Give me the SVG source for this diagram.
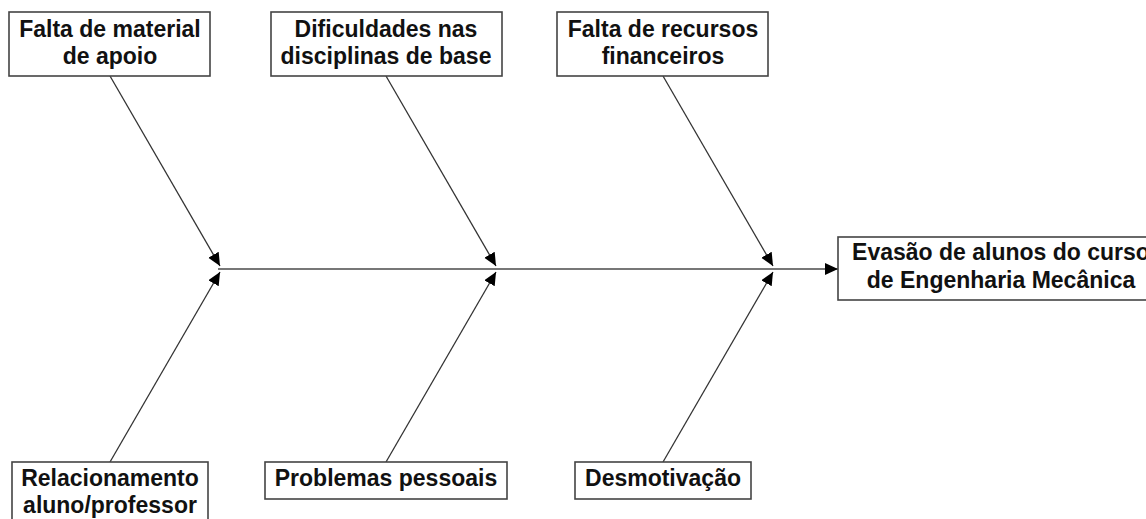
<svg xmlns="http://www.w3.org/2000/svg" width="1146" height="519" viewBox="0 0 1146 519">
<style>
.box{fill:#fff;stroke:#444;stroke-width:1.6}
.t{font-family:"Liberation Sans",Arial,sans-serif;font-weight:bold;font-size:23px;fill:#111;text-anchor:middle}
.br{stroke:#333;stroke-width:1.3;fill:none}
.sp{stroke:#777;stroke-width:2;fill:none}
</style>
<defs>
<marker id="ah" markerUnits="userSpaceOnUse" markerWidth="16" markerHeight="14" refX="13" refY="6" orient="auto">
<path d="M0,0 L13,6 L0,12 Z" fill="#000"/>
</marker>
</defs>
<rect width="1146" height="519" fill="#fff"/>
<g id="connectors">
<line class="sp" x1="218" y1="269" x2="838" y2="269" marker-end="url(#ah)"/>
<line class="br" x1="110" y1="76" x2="220" y2="266" marker-end="url(#ah)"/>
<line class="br" x1="386" y1="76" x2="496" y2="266" marker-end="url(#ah)"/>
<line class="br" x1="663" y1="76" x2="773" y2="266" marker-end="url(#ah)"/>
<line class="br" x1="110" y1="462" x2="220" y2="272" marker-end="url(#ah)"/>
<line class="br" x1="386" y1="462" x2="496" y2="272" marker-end="url(#ah)"/>
<line class="br" x1="663" y1="462" x2="773" y2="272" marker-end="url(#ah)"/>
</g>
<g id="n1"><rect class="box" x="9" y="12" width="201" height="64"/><text class="t" x="110" y="37">Falta de material</text><text class="t" x="110" y="64">de apoio</text></g>
<g id="n2"><rect class="box" x="271" y="12" width="231" height="64"/><text class="t" x="386" y="37">Dificuldades nas</text><text class="t" x="386" y="64">disciplinas de base</text></g>
<g id="n3"><rect class="box" x="557" y="12" width="211" height="64"/><text class="t" x="663" y="37">Falta de recursos</text><text class="t" x="663" y="64">financeiros</text></g>
<g id="n4"><rect class="box" x="12" y="462" width="196" height="70"/><text class="t" x="110" y="486">Relacionamento</text><text class="t" x="110" y="513">aluno/professor</text></g>
<g id="n5"><rect class="box" x="265" y="462" width="242" height="37"/><text class="t" x="386" y="486">Problemas pessoais</text></g>
<g id="n6"><rect class="box" x="575" y="462" width="176" height="37"/><text class="t" x="663" y="486">Desmotivação</text></g>
<g id="effect"><rect class="box" x="838" y="237" width="326" height="63"/><text class="t" x="1001" y="260">Evasão de alunos do curso</text><text class="t" x="1001" y="288">de Engenharia Mecânica</text></g>
</svg>
